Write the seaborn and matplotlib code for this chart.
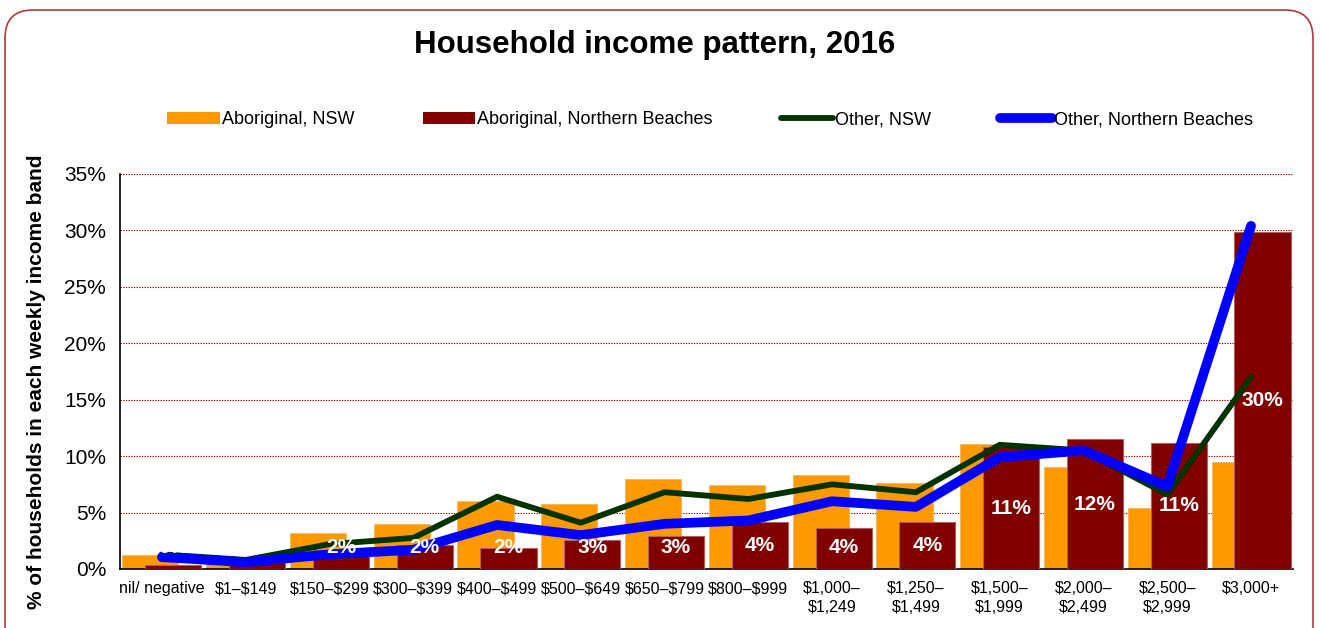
"""
Household income pattern, 2016 - Aboriginal vs other households
"""

import numpy as np
import pandas as pd
import matplotlib
matplotlib.use("Agg")
import matplotlib.pyplot as plt
import seaborn as sns
from matplotlib.patches import FancyBboxPatch, Patch
from matplotlib.lines import Line2D
from matplotlib.transforms import IdentityTransform
from matplotlib.ticker import PercentFormatter, FixedLocator

# --- data (% of households) ---
bands = ["nil/ negative", "$1–$149", "$150–$299", "$300–$399", "$400–$499",
         "$500–$649", "$650–$799", "$800–$999", "$1,000–\n$1,249",
         "$1,250–\n$1,499", "$1,500–\n$1,999", "$2,000–\n$2,499",
         "$2,500–\n$2,999", "$3,000+"]
aboriginal_nsw = [1.25, 0.5, 3.2, 4.0, 6.0, 5.8, 8.0, 7.4, 8.3, 7.6, 11.1, 9.0, 5.4, 9.5]
aboriginal_nb = [0.35, 1.0, 1.7, 2.1, 1.9, 2.6, 2.9, 4.2, 3.6, 4.2, 10.8, 11.5, 11.2, 29.9]
other_nsw = [1.3, 0.8, 2.2, 2.75, 6.4, 4.1, 6.8, 6.2, 7.5, 6.8, 11.0, 10.5, 6.6, 17.0]
other_nb = [1.05, 0.6, 1.3, 1.7, 3.9, 3.0, 4.0, 4.3, 6.0, 5.5, 9.9, 10.5, 7.3, 30.4]
nb_labels = ["0%", "", "2%", "2%", "2%", "3%", "3%", "4%", "4%", "4%",
             "11%", "12%", "11%", "30%"]

ORANGE = "#FF9900"
MAROON = "#800000"
GREEN = "#003300"
BLUE = "#0000FF"

sns.set_style("white")
plt.rcParams["font.family"] = ["Liberation Sans", "DejaVu Sans"]
plt.rcParams["text.parse_math"] = False  # dollar signs are plain text here
plt.rcParams["text.color"] = "black"


def main():
    pos = np.arange(len(bands))
    shift = 0.137
    df = pd.DataFrame({
        "pos": pos,
        "ab_nsw": aboriginal_nsw,
        "ab_nb": aboriginal_nb,
        "oth_nsw": other_nsw,
        "oth_nb": other_nb,
    })

    fig = plt.figure(figsize=(13.2, 6.28), dpi=100)
    ax = fig.add_axes([0.0909, 0.094, 0.8886, 0.629])

    # overlapping bars: orange behind, maroon in front
    sns.barplot(x=df["pos"] - shift, y=df["ab_nsw"], native_scale=True,
                width=0.67, color=ORANGE, saturation=1, errorbar=None,
                edgecolor="#f5b560", linewidth=0.6, ax=ax, zorder=2)
    sns.barplot(x=df["pos"] + shift, y=df["ab_nb"], native_scale=True,
                width=0.67, color=MAROON, saturation=1, errorbar=None,
                edgecolor="#b06060", linewidth=0.8, ax=ax, zorder=3)

    sns.lineplot(x=df["pos"], y=df["oth_nsw"], color=GREEN, linewidth=4.2,
                 sort=False, ax=ax, zorder=4)
    sns.lineplot(x=df["pos"], y=df["oth_nb"], color=BLUE, linewidth=7,
                 solid_capstyle="round", solid_joinstyle="round",
                 sort=False, ax=ax, zorder=5)

    # data labels on the Northern Beaches bars
    for p, v, lab in zip(pos, aboriginal_nb, nb_labels):
        if lab:
            ax.text(p + shift, max(v / 2, 1.9), lab, ha="center", va="center",
                    color="white", fontsize=15, fontweight="bold", zorder=10)

    # axes styling
    ax.set_xlim(-0.5, len(bands) - 0.5)
    ax.set_ylim(0, 35)
    ax.set_xlabel("")
    ax.set_ylabel("")
    ax.yaxis.set_major_locator(FixedLocator(np.arange(0, 36, 5)))
    ax.yaxis.set_major_formatter(PercentFormatter(decimals=0))
    ax.set_xticks(pos)
    ax.set_xticklabels(bands, fontsize=11.5, linespacing=1.3)
    ax.xaxis.set_minor_locator(FixedLocator(np.arange(-0.5, len(bands), 1.0)))
    ax.tick_params(axis="x", which="major", length=0, pad=9, labelcolor="black")
    ax.tick_params(axis="x", which="minor", length=6, width=1.2, color="#888888",
                   direction="out")
    ax.tick_params(axis="y", which="major", length=6, width=1.2, color="#888888",
                   direction="out", labelsize=15, pad=4, labelcolor="black")
    ax.yaxis.grid(True, color="#990000", linestyle=(0, (1.2, 1.2)), linewidth=0.8)
    ax.set_axisbelow(True)
    for side in ["top", "right"]:
        ax.spines[side].set_visible(False)
    for side in ["left", "bottom"]:
        ax.spines[side].set_color("black")
        ax.spines[side].set_linewidth(1.2)

    fig.text(0.028, 0.392, "% of households in each weekly income band",
             rotation=90, ha="center", va="center", fontsize=15, fontweight="bold")
    fig.text(0.496, 0.928, "Household income pattern, 2016", ha="center",
             va="center", fontsize=22.5, fontweight="bold")

    handles = [
        Patch(facecolor=ORANGE, edgecolor="none"),
        Patch(facecolor=MAROON, edgecolor="none"),
        Line2D([], [], color=GREEN, linewidth=4.2),
        Line2D([], [], color=BLUE, linewidth=7, solid_capstyle="round"),
    ]
    names = ["Aboriginal, NSW", "Aboriginal, Northern Beaches",
             "Other, NSW", "Other, Northern Beaches"]
    fig.legend(handles, names, loc="center", bbox_to_anchor=(0.538, 0.809),
               ncol=4, frameon=False, fontsize=13, handlelength=2.9,
               handleheight=0.65, handletextpad=0.1, columnspacing=3.8)

    # rounded outer frame
    frame = FancyBboxPatch((5, -40), 1308, 658,
                           boxstyle="round,pad=0,rounding_size=28",
                           transform=IdentityTransform(), facecolor="none",
                           edgecolor="#b03a3a", linewidth=1.2)
    fig.patches.append(frame)

    fig.savefig("out.png", dpi=100)


if __name__ == "__main__":
    main()
